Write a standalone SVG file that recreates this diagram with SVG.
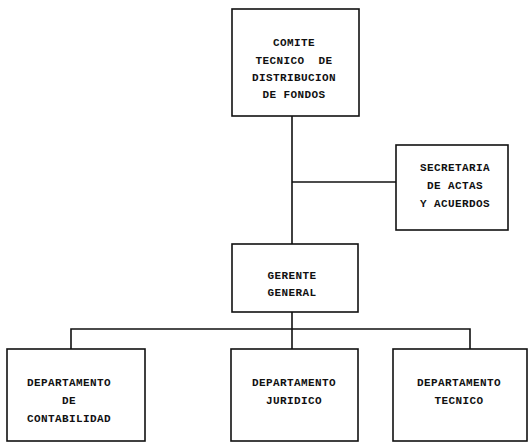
<svg xmlns="http://www.w3.org/2000/svg" width="532" height="443" viewBox="0 0 532 443">
<style>
.box{fill:#fff;stroke:#111;stroke-width:1.6}
.ln{fill:none;stroke:#111;stroke-width:1.6}
text{font-family:"Liberation Mono","DejaVu Sans Mono",monospace;font-size:11px;font-weight:bold;fill:#111;text-anchor:middle;letter-spacing:0.4px;white-space:pre}
</style>
<rect width="532" height="443" fill="#fff"/>
<g id="connectors">
<path class="ln" d="M292 116 V244"/>
<path class="ln" d="M292 182 H396"/>
<path class="ln" d="M292 312 V329"/>
<path class="ln" d="M71 349 V329 H470 V349"/>
<path class="ln" d="M292 329 V349"/>
</g>
<g id="comite">
<rect class="box" x="232" y="9" width="127" height="107"/>
<text x="294" y="46">COMITE</text>
<text x="294" y="64" xml:space="preserve">TECNICO  DE</text>
<text x="294" y="81">DISTRIBUCION</text>
<text x="294" y="98">DE FONDOS</text>
</g>
<g id="secretaria">
<rect class="box" x="396" y="145" width="112" height="85"/>
<text x="455" y="171">SECRETARIA</text>
<text x="455" y="189">DE ACTAS</text>
<text x="455" y="207">Y ACUERDOS</text>
</g>
<g id="gerente">
<rect class="box" x="232" y="244" width="126" height="68"/>
<text x="292" y="279">GERENTE</text>
<text x="292" y="296">GENERAL</text>
</g>
<g id="contabilidad">
<rect class="box" x="7" y="349" width="138" height="92"/>
<text x="69" y="386">DEPARTAMENTO</text>
<text x="69" y="404">DE</text>
<text x="69" y="422">CONTABILIDAD</text>
</g>
<g id="juridico">
<rect class="box" x="231" y="349" width="127" height="92"/>
<text x="294" y="386">DEPARTAMENTO</text>
<text x="294" y="404">JURIDICO</text>
</g>
<g id="tecnico">
<rect class="box" x="393" y="349" width="134" height="92"/>
<text x="459" y="386">DEPARTAMENTO</text>
<text x="459" y="404">TECNICO</text>
</g>
</svg>
